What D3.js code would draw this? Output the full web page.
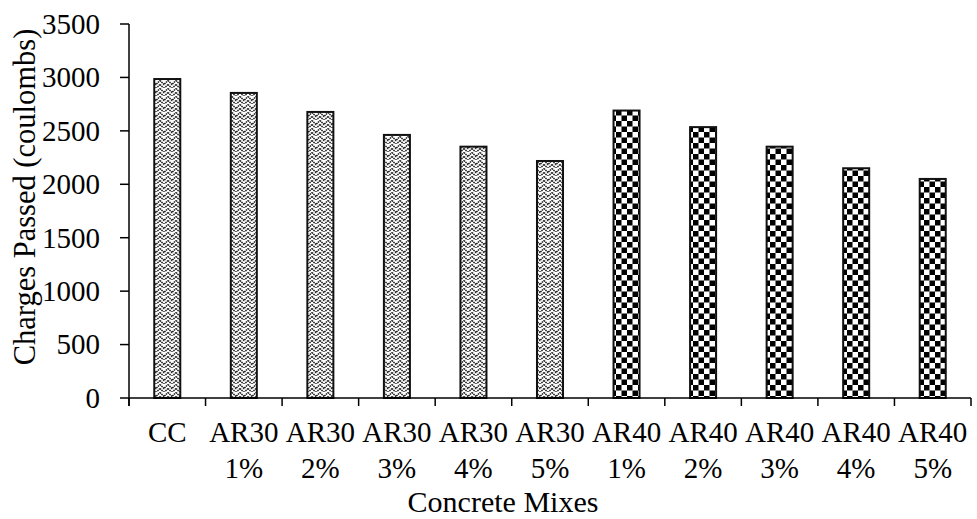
<!DOCTYPE html>
<html><head><meta charset="utf-8">
<script src="https://cdn.jsdelivr.net/npm/d3@7"></script>
<style>
html,body{margin:0;padding:0;background:#fff;}
svg{display:block;}
</style></head>
<body>
<svg id="chart" width="977" height="519"></svg>
<script>
const categories = ["CC","AR30 1%","AR30 2%","AR30 3%","AR30 4%","AR30 5%","AR40 1%","AR40 2%","AR40 3%","AR40 4%","AR40 5%"];
const groups = ["AR30","AR30","AR30","AR30","AR30","AR30","AR40","AR40","AR40","AR40","AR40"];
const values = [2985, 2855, 2677, 2462, 2352, 2218, 2690, 2535, 2352, 2150, 2050];
const yTicks = [0,500,1000,1500,2000,2500,3000,3500];
const yTitle = "Charges Passed (coulombs)";
const xTitle = "Concrete Mixes";

(function(){
const FONT = '"Liberation Serif", "Times New Roman", Tinos, serif';
const svg = d3.select("#chart");
const pLeft = 129, pRight = 971, pTop = 24, pBottom = 398;

const x = d3.scaleBand().domain(categories).range([pLeft, pRight]).paddingInner(0.66).paddingOuter(0.33);
const y = d3.scaleLinear().domain([0, 3500]).range([pBottom, pTop]);

const defs = svg.append("defs");
const chk = defs.append("pattern").attr("id","checker").attr("patternUnits","userSpaceOnUse")
  .attr("width",11).attr("height",11);
chk.append("rect").attr("width",11).attr("height",11).attr("fill","#fff");
chk.append("rect").attr("x",0).attr("y",0).attr("width",5.5).attr("height",5.5).attr("fill","#000");
chk.append("rect").attr("x",5.5).attr("y",5.5).attr("width",5.5).attr("height",5.5).attr("fill","#000");
const wv = defs.append("pattern").attr("id","weave").attr("patternUnits","userSpaceOnUse")
  .attr("width",8).attr("height",8);
wv.append("rect").attr("width",8).attr("height",8).attr("fill","#fff");
wv.append("path").attr("d","M0,0.5 L4,4.5 L8,0.5 M0,4.5 L3.5,8 M8,4.5 L4.5,8")
  .attr("fill","none").attr("stroke","#1a1a1a").attr("stroke-width",1.5).attr("stroke-dasharray","1.5,0.6");

const step = x.step();
svg.append("g").selectAll("rect").data(categories).join("rect")
  .attr("x", d => x(d))
  .attr("y", (d,i) => y(values[i]))
  .attr("width", x.bandwidth())
  .attr("height", (d,i) => y(0) - y(values[i]))
  .attr("fill", (d,i) => groups[i] === "AR40" ? "url(#checker)" : "url(#weave)")
  .attr("stroke", "#111").attr("stroke-width", 2);

const ya = svg.append("g");
ya.append("line").attr("x1",pLeft).attr("x2",pLeft).attr("y1",y(3500)).attr("y2",pBottom+8)
  .attr("stroke","#000").attr("stroke-width",1.5);
ya.selectAll("line.t").data(yTicks).join("line").attr("class","t")
  .attr("x1",pLeft-9).attr("x2",pLeft).attr("y1",d=>y(d)).attr("y2",d=>y(d))
  .attr("stroke","#000").attr("stroke-width",1.5);
ya.selectAll("text").data(yTicks).join("text")
  .attr("x",100).attr("y",d=>y(d)).attr("dy","0.34em")
  .style("font-family",FONT)
  .attr("text-anchor","end").attr("font-size",29).attr("fill","#000").text(d=>d);

const xa = svg.append("g");
xa.append("line").attr("x1",pLeft).attr("x2",pRight).attr("y1",pBottom).attr("y2",pBottom)
  .attr("stroke","#000").attr("stroke-width",1.5);
const bounds = categories.map(c => x(c) - step*x.paddingInner()/2).concat([pRight]);
xa.selectAll("line.t").data(bounds).join("line").attr("class","t")
  .attr("x1",d=>d).attr("x2",d=>d).attr("y1",pBottom).attr("y2",pBottom+8)
  .attr("stroke","#000").attr("stroke-width",1.5);
const lbl = xa.selectAll("text").data(categories).join("text")
  .style("font-family",FONT)
  .attr("text-anchor","middle").attr("font-size",29).attr("fill","#000");
lbl.each(function(d){
  const parts = d.split(" ");
  const t = d3.select(this);
  const cx = x(d) + x.bandwidth()/2;
  parts.forEach((p,j)=>{
    t.append("tspan").attr("x",cx).attr("y",442 + j*36).text(p);
  });
});

svg.append("text").attr("transform",`translate(35,197) rotate(-90)`)
  .style("font-family",FONT)
  .attr("text-anchor","middle").attr("font-size",30.5).attr("fill","#000").text(yTitle);
svg.append("text").attr("x",503).attr("y",512).attr("text-anchor","middle")
  .style("font-family",FONT)
  .attr("font-size",30).attr("fill","#000").text(xTitle);
})();
</script>
</body></html>
